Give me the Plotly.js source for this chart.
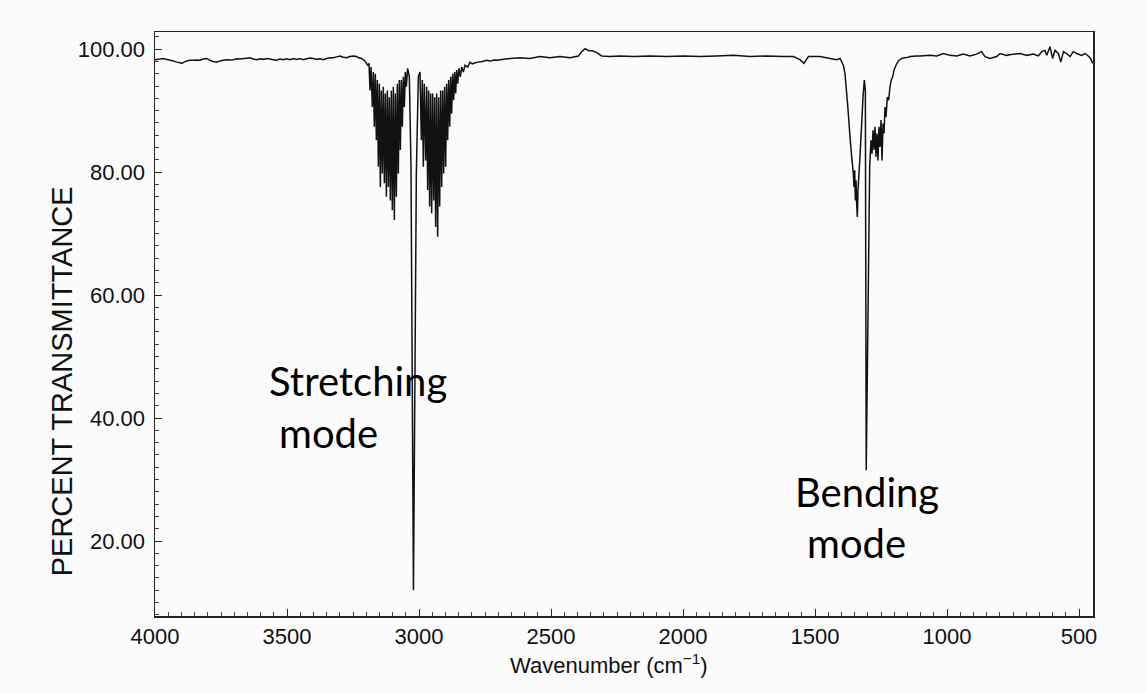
<!DOCTYPE html>
<html>
<head>
<meta charset="utf-8">
<script src="https://cdn.plot.ly/plotly-3.0.1.min.js"></script>
<style>html,body{margin:0;padding:0;background:#fbfbfb;}#chart{width:1146px;height:693px;}</style>
</head>
<body>
<div id="chart"></div>
<script>
// Wavenumber (cm^-1), descending
const wavenumber = [
  4000,3990,3980,3968,3958,3950,3943,3930,3918,3908,3899,3890,3880,3868,3855,3842,3830,3818,3804,3792,
  3780,3766,3754,3741,3728,3715,3703,3690,3678,3665,3652,3640,3628,3615,3603,3590,3577,3565,3552,3539,
  3527,3514,3502,3489,3476,3464,3451,3438,3426,3413,3400,3388,3375,3362,3350,3337,3324,3312,3299,3287,
  3274,3262,3249,3237,3228,
  3217,3205,3194.4,3189.4,3185.6,3181.8,3176.8,3173,3169.2,3165.4,3161.6,3157.8,3154,3150.2,3146.4,3142.7,
  3138.9,3135.1,3131.3,3127.5,3123.7,3119.9,3116.1,3112.4,3108.6,3104.8,3101,3097.2,3093.4,3089.6,3085.8,
  3082,3078.3,3074.5,3070.7,3066.9,3063.1,3059.3,3055.5,3051.8,3048,3043,3036.6,3030.3,3021,3010.1,3002.5,
  2996.2,2991.1,2987.4,2983.6,2979.8,2974.7,2971,2967.2,2963.4,2959.6,2955.8,2952,2948.2,2944.4,2940.6,
  2936.9,2933.1,2929.3,2925.5,2921.7,2917.9,2914.1,2910.3,2906.6,2902.8,2899,2895.2,2891.4,2887.6,2883.8,
  2880,2876.3,2872.5,2868.7,2864.9,2861.1,2857.3,2853.5,2848.5,2843.4,2838.4,2832.1,2825.7,2815.7,2806.8,
  2798,2787.9,2775.2,
  2760,2745,2730,2715,2700,2693,2655,2617,2580,2542,2504,2466,2428,2396,2384,2371,2359,2340,2325,2308,
  2277,2239,2188,2125,2062,1999,1936,1873,1809,1746,1683,1620,1582,1557,1542,1525,1481,1443,1418,
  1405.3,1392.7,1386.4,1380,1373.7,1367.4,1361.1,1354.8,1352.3,1349.7,1347.2,1344.7,1342.2,1339.7,1337.1,
  1333.4,1328.3,1323.2,1318.2,1313.1,1309.3,1306,1292.9,1287.9,1284.1,1280.3,1276.5,1272.7,1269,1265.2,
  1261.4,1257.6,1253.8,1250,1246.2,1242.4,1238.6,1234.8,1231.1,1226,1221,1215.9,1210.9,1205.8,1200.8,
  1193.2,1184.4,1171.7,1160,1146.5,1140,1115,1102,1064,1039,1014,989,963,938,913,888,869,856,837,812,
  799,774,749,723,698,673,654,641,629,622,610,600,591,578,569,559,547,534,522,509,490,477,465,456,448
];
// Percent transmittance at each wavenumber above
const transmittance = [
  98.3,98.35,98.4,98.5,98.35,98.3,98.2,98.1,97.9,97.85,97.7,97.9,98.1,98.2,98.2,98.25,98.2,98.4,98.5,98.2,
  98.0,97.9,98.1,98.2,98.3,98.25,98.3,98.45,98.4,98.5,98.55,98.6,98.4,98.3,98.45,98.35,98.5,98.4,98.3,98.2,
  98.4,98.3,98.45,98.3,98.5,98.35,98.5,98.3,98.45,98.55,98.5,98.35,98.45,98.3,98.5,98.6,98.6,98.75,98.9,98.7,
  98.6,98.8,98.9,98.8,98.6,
  98.5,98.1,97.4,97.7,93.3,97.1,90.6,96.3,87.4,96.0,85.2,95.0,80.9,94.4,77.6,93.3,
  79.8,93.9,78.2,92.8,76.0,93.3,77.6,92.2,75.4,93.3,73.8,93.9,72.2,92.8,76.0,
  94.4,79.8,95.0,83.6,95.0,87.4,95.5,90.6,96.3,93.9,96.9,95.5,80.9,12.0,79.8,95.5,
  96.3,85.2,95.0,80.9,94.4,81.9,93.9,77.1,93.3,74.4,92.8,73.3,92.8,75.4,92.2,
  71.1,92.8,69.5,92.2,74.4,93.3,77.6,93.3,79.8,93.9,80.9,94.4,85.2,95.0,87.4,
  95.5,89.5,96.0,91.7,96.3,92.8,96.6,94.4,96.9,95.5,97.1,96.3,97.4,97.1,97.9,
  97.6,97.8,97.9,
  98.0,98.2,98.1,98.25,98.2,98.3,98.5,98.6,98.5,98.8,98.6,98.8,98.6,98.9,99.6,100.1,99.8,99.7,99.4,98.9,
  98.8,98.9,98.8,98.9,98.8,98.9,98.8,98.9,99.0,98.8,98.9,98.8,98.8,98.3,97.7,98.8,98.8,98.5,98.3,
  98.5,97.4,96.0,92.8,89.5,85.7,82.5,79.8,77.6,80.3,75.4,78.7,74.9,72.7,77.1,
  79.8,83.6,87.9,92.2,95.0,93.3,31.5,80.9,85.2,83.0,86.8,83.6,87.4,82.5,86.3,
  81.9,87.4,84.1,88.5,81.9,87.9,86.3,90.6,89.0,92.2,91.7,93.9,95.0,95.5,96.6,
  97.4,98.1,98.5,98.6,98.7,98.8,98.9,98.9,99.0,98.9,99.3,99.0,98.9,99.2,98.9,99.2,99.6,98.8,98.5,98.8,
  99.3,99.0,99.2,99.3,99.0,99.2,98.9,99.6,99.8,99.0,100.4,98.5,99.8,99.3,97.9,99.6,99.3,98.8,99.6,99.3,99.0,99.3,98.9,98.5,97.7
];
const xTickVals = [4000,3500,3000,2500,2000,1500,1000,500];
const yTickVals = [20,40,60,80,100];

const trace = {
  type: 'scatter', mode: 'lines',
  x: wavenumber, y: transmittance,
  line: {color: '#111111', width: 1.5, simplify: false},
  hoverinfo: 'x+y'
};

const axisFont = {family: 'Liberation Sans, Arial, sans-serif', size: 22, color: '#111111'};
const noteFont = {family: 'Lato, sans-serif', size: 40, color: '#000000'};
const note = (x, y, text) => ({xref: 'paper', yref: 'paper', x: x, y: y, xanchor: 'center', yanchor: 'middle',
  text: text, showarrow: false, font: noteFont});

const layout = {
  width: 1146, height: 693,
  margin: {l: 155, r: 53, t: 32, b: 77},
  paper_bgcolor: '#fbfbfb', plot_bgcolor: '#fbfbfb',
  showlegend: false,
  xaxis: {
    range: [4000, 447], autorange: false,
    tickmode: 'array', tickvals: xTickVals, ticktext: xTickVals.map(String),
    ticks: 'inside', ticklen: 7, tickwidth: 1, tickcolor: '#222',
    minor: {dtick: 50, tick0: 0, ticks: 'inside', ticklen: 4, tickcolor: '#444', showgrid: false},
    showline: true, linecolor: '#222', linewidth: 1.5, mirror: true,
    showgrid: false, zeroline: false,
    tickfont: axisFont, ticklabelstandoff: 0
  },
  yaxis: {
    range: [7.8, 102.8], autorange: false,
    tickmode: 'array', tickvals: yTickVals, ticktext: yTickVals.map(v => v.toFixed(2)),
    ticks: 'inside', ticklen: 7, tickwidth: 1, tickcolor: '#222',
    minor: {dtick: 2, tick0: 0, ticks: 'inside', ticklen: 4, tickcolor: '#444', showgrid: false},
    showline: true, linecolor: '#222', linewidth: 1.5, mirror: true,
    showgrid: false, zeroline: false,
    tickfont: axisFont, ticklabelstandoff: 4
  },
  annotations: [
    {xref: 'paper', yref: 'paper', x: -0.0991, y: 0.402, xanchor: 'center', yanchor: 'middle',
     text: 'PERCENT TRANSMITTANCE', textangle: -90,
     showarrow: false, font: {family: 'Liberation Sans, Arial, sans-serif', size: 29, color: '#111111'}},
    {xref: 'paper', yref: 'paper', x: 0.484, y: -0.0825, xanchor: 'center', yanchor: 'middle',
     text: 'Wavenumber (cm<sup>−1</sup>)',
     showarrow: false, font: {family: 'Liberation Sans, Arial, sans-serif', size: 22, color: '#111111'}},
    note(0.2164, 0.4024, 'Stretching'),
    note(0.1855, 0.3134, 'mode'),
    note(0.759, 0.2123, 'Bending'),
    note(0.748, 0.125, 'mode')
  ]
};

Plotly.newPlot('chart', [trace], layout, {displayModeBar: false, staticPlot: true});
</script>
</body>
</html>
